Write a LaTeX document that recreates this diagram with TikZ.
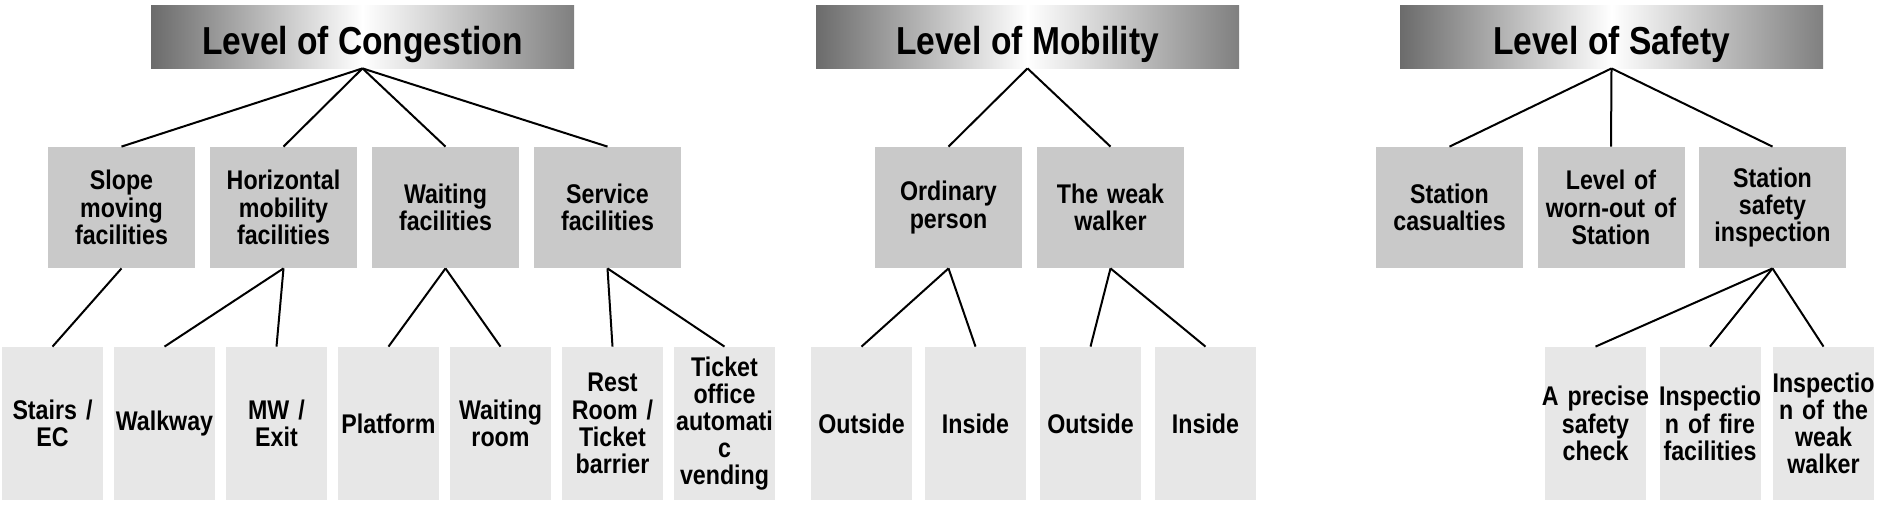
\documentclass[tikz,border=0pt]{standalone}
\usepackage{fontspec}
\newfontfamily\boxfont{Liberation Sans}[FakeStretch=0.86]
\definecolor{catgray}{gray}{0.79}
\definecolor{itemgray}{gray}{0.905}
\definecolor{headleft}{gray}{0.42}
\definecolor{headright}{gray}{0.5}
\begin{document}
\begin{tikzpicture}[x=0.5pt,y=-0.5pt,
    head/.style={minimum width=211.5pt,minimum height=31.5pt,inner sep=0pt,
      text height=18pt,text depth=0pt,
      left color=headleft,right color=headright,middle color=white,
      font=\boxfont\bfseries\fontsize{19.5}{20}\selectfont},
    cat/.style={fill=catgray,minimum width=73.5pt,minimum height=60.5pt,
      inner sep=0pt,text width=73.5pt,align=center,
      font=\boxfont\bfseries\fontsize{13.5}{13.6}\selectfont},
    item/.style={fill=itemgray,minimum width=50.5pt,minimum height=76.5pt,
      inner sep=0pt,text width=50.5pt,align=center,
      font=\boxfont\bfseries\fontsize{13.5}{13.6}\selectfont}]
  \useasboundingbox (0,0) rectangle (1878,504);
  % headings
  \node[head] (cong) at (362.5,36.5) {Level of Congestion};
  \node[head] (mob) at (1027.5,36.5) {Level of Mobility};
  \node[head] (saf) at (1611.5,36.5) {Level of Safety};
  % second level
  \node[cat] (slope) at (121.5,207.5) {Slope\\moving\\facilities};
  \node[cat] (horiz) at (283.5,207.5) {Horizontal\\mobility\\facilities};
  \node[cat] (waitf) at (445.5,207.5) {Waiting\\facilities};
  \node[cat] (serv) at (607.5,207.5) {Service\\facilities};
  \node[cat] (ord) at (948.5,207.5) {Ordinary\\person};
  \node[cat] (weak) at (1110.5,207.5) {The~weak\\walker};
  \node[cat] (cas) at (1449.5,207.5) {Station\\casualties};
  \node[cat] (worn) at (1611,207.5) {Level~of\\worn-out~of\\Station};
  \node[cat] (insp) at (1772.5,207.5) {Station\\safety\\inspection};
  % third level
  \node[item] (stairs) at (52.5,423.5) {Stairs~/\\EC};
  \node[item] (walk) at (164.5,423.5) {Walkway};
  \node[item] (mw) at (276.5,423.5) {MW~/\\Exit};
  \node[item] (plat) at (388.5,423.5) {Platform};
  \node[item] (wroom) at (500.5,423.5) {Waiting\\room};
  \node[item] (rest) at (612.5,423.5) {Rest\\Room~/\\Ticket\\barrier};
  \node[item] (ticket) at (724.5,423.5) {Ticket\\office\\automati\\c\\vending};
  \node[item] (out1) at (861.5,423.5) {Outside};
  \node[item] (in1) at (975.5,423.5) {Inside};
  \node[item] (out2) at (1090.5,423.5) {Outside};
  \node[item] (in2) at (1205.5,423.5) {Inside};
  \node[item] (prec) at (1595.5,423.5) {\makebox[\linewidth]{A precise}\\safety\\check};
  \node[item] (fire) at (1710,423.5) {\makebox[\linewidth]{Inspectio}\\n~of~fire\\facilities};
  \node[item] (weakw) at (1823.5,423.5) {\makebox[\linewidth]{Inspectio}\\n~of~the\\weak\\walker};
  \begin{scope}[line width=1pt]
    \draw (cong.south) to (slope.north);
    \draw (cong.south) to (horiz.north);
    \draw (cong.south) to (waitf.north);
    \draw (cong.south) to (serv.north);
    \draw (slope.south) to (stairs.north);
    \draw (horiz.south) to (walk.north);
    \draw (horiz.south) to (mw.north);
    \draw (waitf.south) to (plat.north);
    \draw (waitf.south) to (wroom.north);
    \draw (serv.south) to (rest.north);
    \draw (serv.south) to (ticket.north);
    \draw (mob.south) to (ord.north);
    \draw (mob.south) to (weak.north);
    \draw (ord.south) to (out1.north);
    \draw (ord.south) to (in1.north);
    \draw (weak.south) to (out2.north);
    \draw (weak.south) to (in2.north);
    \draw (saf.south) to (cas.north);
    \draw (saf.south) to (worn.north);
    \draw (saf.south) to (insp.north);
    \draw (insp.south) to (prec.north);
    \draw (insp.south) to (fire.north);
    \draw (insp.south) to (weakw.north);
  \end{scope}
\end{tikzpicture}
\end{document}
